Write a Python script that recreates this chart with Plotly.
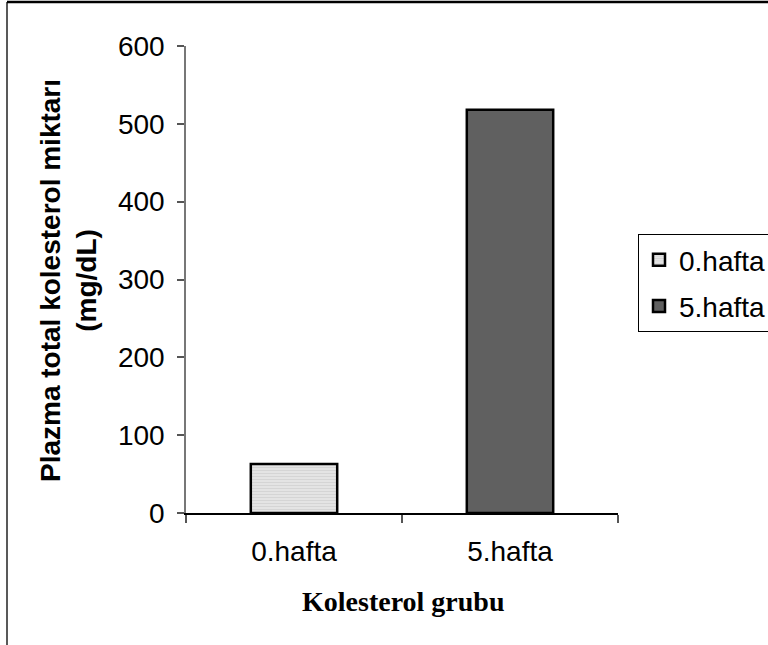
import plotly.graph_objects as go

# Data
categories = ["0.hafta", "5.hafta"]
values = [63, 518]
series_names = ["0.hafta", "5.hafta"]
y_ticks = [0, 100, 200, 300, 400, 500, 600]

W, H = 768, 645
L, R, T, B = 186, 150, 46, 132
PW, PH = W - L - R, H - T - B


def px_x(px):
    return (px - L) / PW


def px_y(py):
    return (H - B - py) / PH


fig = go.Figure()

fig.add_trace(go.Bar(
    x=[categories[0]], y=[values[0]], name=series_names[0],
    legendgroup="g0", width=0.4,
    marker=dict(
        color="#e2e2e2",
        line=dict(color="black", width=2.5),
        pattern=dict(shape="-", bgcolor="#e4e4e4", fgcolor="#c4c4c4",
                     size=3, solidity=0.3),
    ),
))
fig.add_trace(go.Bar(
    x=[categories[1]], y=[values[1]], name=series_names[1],
    legendgroup="g1", width=0.4,
    marker=dict(color="#606060", line=dict(color="black", width=2.5)),
))

shapes = [
    # outer frame (left and top edges)
    dict(type="line", xref="paper", yref="paper",
         x0=px_x(7), x1=px_x(7), y0=px_y(2), y1=px_y(H + 5),
         line=dict(color="#222222", width=1.5)),
    dict(type="line", xref="paper", yref="paper",
         x0=px_x(7), x1=px_x(W + 5), y0=px_y(2), y1=px_y(2),
         line=dict(color="black", width=2.5)),
]

fig.update_layout(
    width=W, height=H,
    margin=dict(l=L, r=R, t=T, b=B, pad=0, autoexpand=False),
    paper_bgcolor="white", plot_bgcolor="white",
    font=dict(family="Liberation Sans, Arial", size=28, color="black"),
    barmode="overlay",
    showlegend=True,
    legend=dict(
        xref="container", yref="container",
        x=638 / W, y=1 - 234 / H, xanchor="left", yanchor="top",
        bordercolor="black", borderwidth=1, bgcolor="white",
        font=dict(size=28), itemwidth=30, tracegroupgap=7,
    ),
    shapes=shapes,
    annotations=[
        dict(text="<b>Plazma total kolesterol miktarı</b><br><b>(mg/dL)</b>",
             xref="paper", yref="paper", x=px_x(68), y=px_y(281),
             xanchor="center", yanchor="middle", textangle=-90,
             showarrow=False,
             font=dict(family="Liberation Sans, Arial", size=28, color="black")),
        dict(text="<b>Kolesterol grubu</b>",
             xref="paper", yref="paper", x=px_x(403), y=px_y(601),
             xanchor="center", yanchor="middle", showarrow=False,
             font=dict(family="Liberation Serif, Times New Roman", size=28,
                       color="black")),
    ],
)

fig.update_xaxes(
    type="category", categoryorder="array", categoryarray=categories,
    range=[-0.5, 1.5],
    showline=True, linecolor="black", linewidth=1.5,
    ticks="outside", tickson="boundaries", ticklen=8, tickcolor="#555555",
    tickwidth=1.5, showgrid=False, zeroline=False,
    tickfont=dict(size=28), ticklabelstandoff=13,
)
fig.update_yaxes(
    range=[0, 600], tickvals=y_ticks,
    showline=True, linecolor="#777777", linewidth=1.5,
    ticks="outside", ticklen=7, tickcolor="#555555", tickwidth=1.5,
    showgrid=False, zeroline=False,
    tickfont=dict(size=28), ticklabelstandoff=7,
)

fig.write_html("out.html")
